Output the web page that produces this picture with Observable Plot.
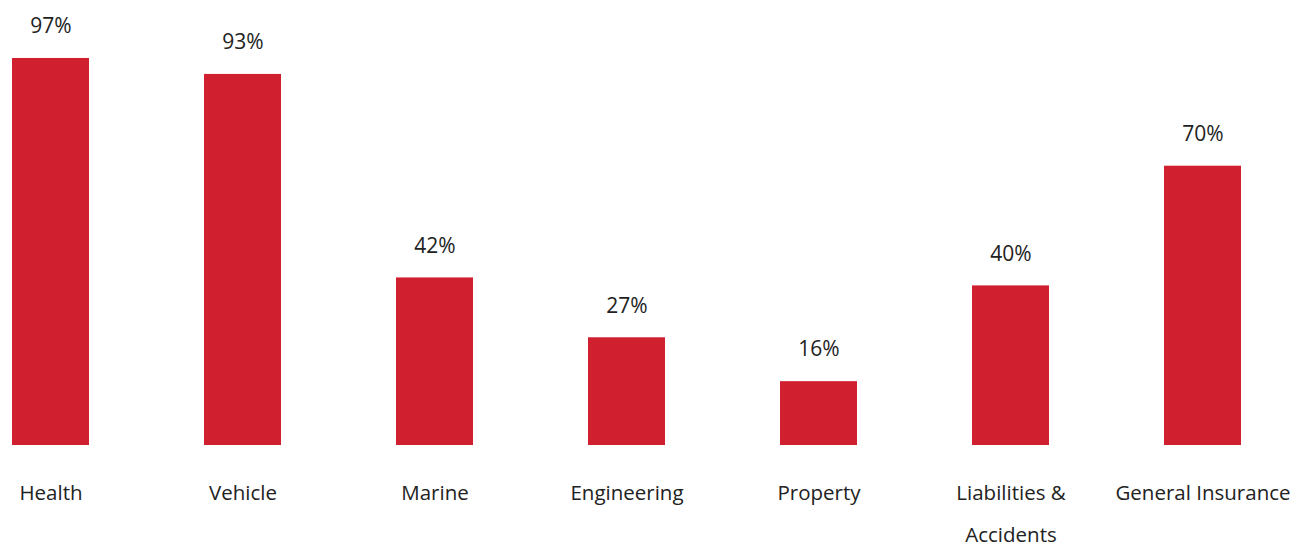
<!DOCTYPE html>
<html>
<head>
<meta charset="utf-8">
<script src="https://cdn.jsdelivr.net/npm/d3@7"></script>
<script src="https://cdn.jsdelivr.net/npm/@observablehq/plot@0.6"></script>
<style>
  html, body { margin: 0; padding: 0; background: #fff; }
</style>
</head>
<body>
<div id="chart"></div>
<script>
const categories = ["Health", "Vehicle", "Marine", "Engineering", "Property", "Liabilities &\nAccidents", "General Insurance"];
const values = [97, 93, 42, 27, 16, 40, 70];
const valueLabels = ["97%", "93%", "42%", "27%", "16%", "40%", "70%"];

const data = categories.map((c, i) => ({ category: c, value: values[i], label: valueLabels[i] }));

const chart = Plot.plot({
  width: 1296,
  height: 547,
  marginTop: 46,
  marginBottom: 102,
  marginLeft: 0,
  marginRight: 43,
  style: { fontFamily: "'Open Sans', sans-serif", background: "#fff", overflow: "visible" },
  x: { domain: categories, paddingInner: 0.6, paddingOuter: 0.057, label: null },
  y: { domain: [0, 100], axis: null },
  marks: [
    Plot.barY(data, { x: "category", y: "value", fill: "#D0202F" }),
    Plot.text(data, { x: "category", y: "value", text: "label", dy: -32, fontSize: 21, fill: "#222", letterSpacing: 2 }),
    Plot.axisX({ tickSize: 0, tickPadding: 25, fontSize: 20.5, lineHeight: 2.05, color: "#222", label: null })
  ]
});
document.getElementById("chart").appendChild(chart);
</script>
</body>
</html>
